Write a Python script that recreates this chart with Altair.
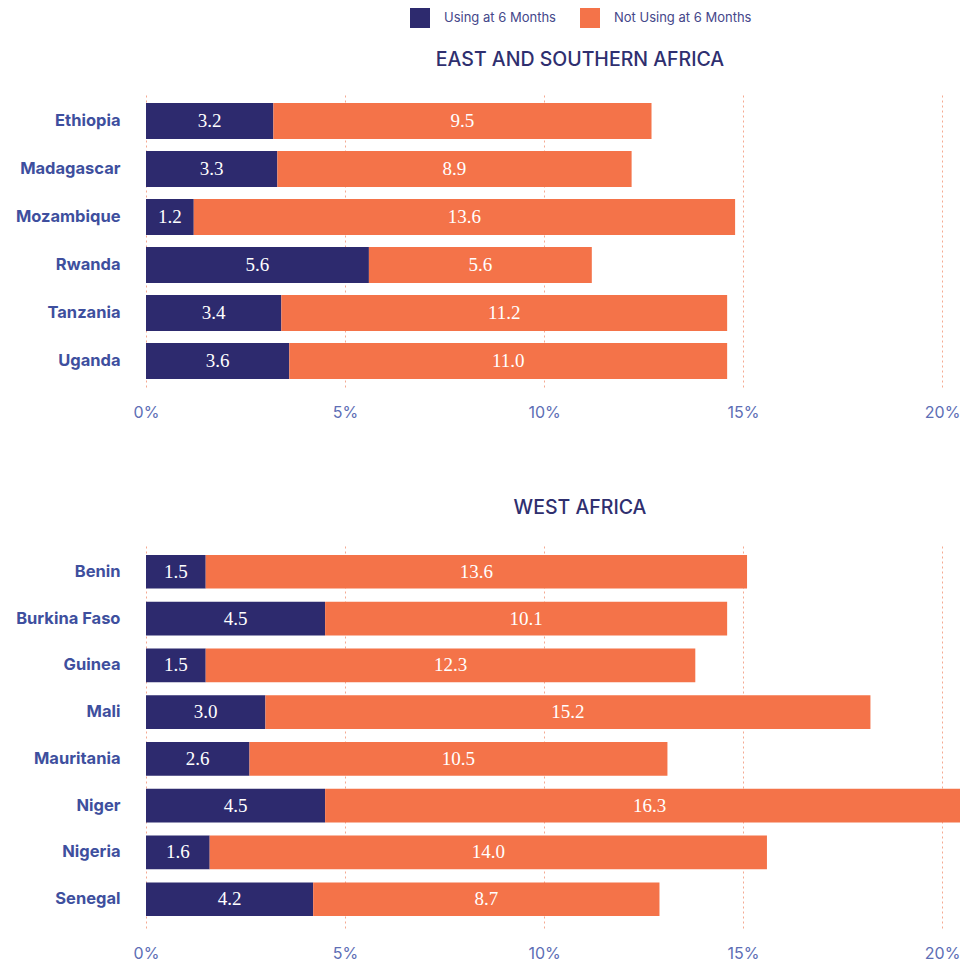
import altair as alt
import pandas as pd

# ---- data ----
series = ["Using at 6 Months", "Not Using at 6 Months"]
colors = ["#2d2a6e", "#f47349"]

east_countries = ["Ethiopia", "Madagascar", "Mozambique", "Rwanda", "Tanzania", "Uganda"]
east_using = [3.2, 3.3, 1.2, 5.6, 3.4, 3.6]
east_not_using = [9.5, 8.9, 13.6, 5.6, 11.2, 11.0]

west_countries = ["Benin", "Burkina Faso", "Guinea", "Mali", "Mauritania", "Niger", "Nigeria", "Senegal"]
west_using = [1.5, 4.5, 1.5, 3.0, 2.6, 4.5, 1.6, 4.2]
west_not_using = [13.6, 10.1, 12.3, 15.2, 10.5, 16.3, 14.0, 8.7]

tick_values = [0, 5, 10, 15, 20]


def make_df(countries, using, not_using):
    rows = []
    for c, u, n in zip(countries, using, not_using):
        rows.append({"country": c, "series": series[0], "value": u, "order": 0})
        rows.append({"country": c, "series": series[1], "value": n, "order": 1})
    return pd.DataFrame(rows)


X_MAX = 20.45
W = 814

legend = alt.Legend(
    orient="none", legendX=264, legendY=-87, direction="horizontal",
    symbolType="square", symbolSize=400, symbolStrokeWidth=0,
    labelFont="Inter", labelFontSize=13, labelColor="#45478a",
    columnPadding=24, labelOffset=14, padding=0, title=None,
)


def panel(df, countries, title, height, pi, po):
    base = alt.Chart(df).transform_stack(
        stack="value", groupby=["country"], as_=["x0", "x1"],
        sort=[alt.SortField("order", order="ascending")],
    ).transform_calculate(mid="(datum.x0 + datum.x1) / 2")

    yscale = alt.Scale(paddingInner=pi, paddingOuter=po)
    xscale = alt.Scale(domain=[0, X_MAX], nice=False, zero=True)

    bars = base.mark_bar(clip=True).encode(
        y=alt.Y("country:N", sort=countries, title=None, scale=yscale,
                axis=alt.Axis(labelFont="Inter", labelFontWeight="bold", labelFontSize=16.5,
                              labelColor="#3e4f9e", labelPadding=26, ticks=False, domain=False,
                              minExtent=138, maxExtent=138)),
        x=alt.X("x0:Q", scale=xscale, title=None,
                axis=alt.Axis(values=tick_values, labelExpr="datum.value + '%'", grid=True,
                              gridColor="#f5a990", gridDash=[2, 3], ticks=False, domain=False,
                              labelFont="Inter", labelFontSize=16, labelColor="#5d6eb5",
                              labelPadding=17, labelFlush=False)),
        x2="x1:Q",
        color=alt.Color("series:N", scale=alt.Scale(domain=series, range=colors), legend=legend),
    )
    text = base.mark_text(font="Liberation Serif", fontSize=19, color="white").encode(
        y=alt.Y("country:N", sort=countries),
        x=alt.X("mid:Q"),
        text=alt.Text("value:Q", format=".1f"),
    )
    return alt.layer(bars, text).properties(
        width=W, height=height,
        title=alt.TitleParams(title, font="Inter", fontSize=19.5, fontWeight=500, color="#2f2f6f",
                              anchor="middle", frame="group", dx=27, offset=25),
    )


east = panel(make_df(east_countries, east_using, east_not_using), east_countries,
             "EAST AND SOUTHERN AFRICA", 292, 0.25, 0.167)
west = panel(make_df(west_countries, west_using, west_not_using), west_countries,
             "WEST AFRICA", 385, 0.28, 0.255)

chart = alt.vconcat(east, west, spacing=77).properties(padding=0).configure_view(stroke=None)

chart.save("out.html", embed_options={"renderer": "svg", "actions": False})
